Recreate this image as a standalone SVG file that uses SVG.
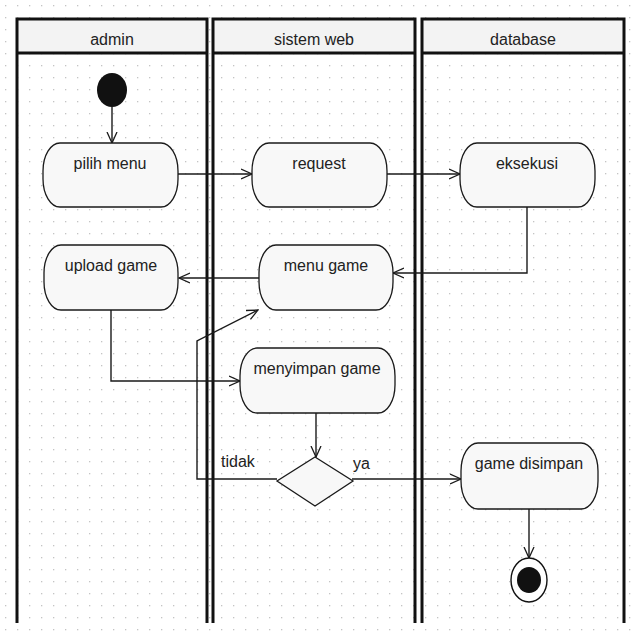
<svg xmlns="http://www.w3.org/2000/svg" width="640" height="640" viewBox="0 0 640 640">
<style>
.lane{fill:none;stroke:#111;stroke-width:3}
.hdr{fill:#f3f3f3;stroke:none}
.ht{font-family:"Liberation Sans",Arial,sans-serif;font-size:16px;fill:#222;text-anchor:middle}
.act{fill:#f8f8f8;stroke:#1a1a1a;stroke-width:1.3}
.t{font-family:"Liberation Sans",Arial,sans-serif;font-size:16px;fill:#222;text-anchor:middle}
.lbl{font-family:"Liberation Sans",Arial,sans-serif;font-size:16px;fill:#222}
.c{fill:none;stroke:#1a1a1a;stroke-width:1.4}
.ca{fill:none;stroke:#1a1a1a;stroke-width:1.4;marker-end:url(#arr)}
</style>
<defs>
<pattern id="dots" x="0" y="0" width="12" height="12" patternUnits="userSpaceOnUse">
<rect x="5" y="5" width="1.3" height="1.3" fill="#c4c4c4"/>
</pattern>
<marker id="arr" viewBox="0 0 12 12" refX="11" refY="6" markerWidth="12" markerHeight="12" markerUnits="userSpaceOnUse" orient="auto">
<path d="M0,1 L11,6 L0,11" fill="none" stroke="#1a1a1a" stroke-width="1.3"/>
</marker>
</defs>
<rect width="640" height="640" fill="#ffffff"/>
<rect width="640" height="640" fill="url(#dots)"/>

<g id="lanes">
<g id="lane-admin">
<rect class="hdr" x="17" y="19" width="190" height="34"/>
<path class="lane" d="M17,623 V19 H207 V623 M17,53 H207"/>
<text class="ht" x="112" y="45">admin</text>
</g>
<g id="lane-sistem">
<rect class="hdr" x="213" y="19" width="202" height="34"/>
<path class="lane" d="M213,623 V19 H415 V623 M213,53 H415"/>
<text class="ht" x="314" y="45">sistem web</text>
</g>
<g id="lane-database">
<rect class="hdr" x="422" y="19" width="202" height="34"/>
<path class="lane" d="M422,623 V19 H624 V623 M422,53 H624"/>
<text class="ht" x="523" y="45">database</text>
</g>
</g>

<g id="connectors">
<path class="ca" d="M112,107 V143"/>
<path class="ca" d="M178,174 H252"/>
<path class="ca" d="M387,174 H460"/>
<path class="ca" d="M527,207 V273 H393"/>
<path class="ca" d="M259,278 H179"/>
<path class="ca" d="M111,310 V381 H240"/>
<path class="ca" d="M316,413 V457"/>
<path class="ca" d="M352,479 H461"/>
<path class="ca" d="M277,479 H197 V341 L258,310"/>
<path class="ca" d="M529,509 V558"/>
<text class="lbl" x="221" y="467">tidak</text>
<text class="lbl" x="353" y="469">ya</text>
</g>

<g id="start">
<ellipse cx="112" cy="90" rx="15" ry="17" fill="#111"/>
</g>
<g id="pilih-menu">
<rect class="act" x="43" y="143" width="135" height="64" rx="17" ry="28"/>
<text class="t" x="110" y="169">pilih menu</text>
</g>
<g id="request">
<rect class="act" x="252" y="143" width="135" height="64" rx="17" ry="28"/>
<text class="t" x="319" y="169">request</text>
</g>
<g id="eksekusi">
<rect class="act" x="460" y="143" width="135" height="64" rx="17" ry="28"/>
<text class="t" x="527" y="169">eksekusi</text>
</g>
<g id="upload-game">
<rect class="act" x="44" y="245" width="134" height="65" rx="17" ry="28"/>
<text class="t" x="111" y="271">upload game</text>
</g>
<g id="menu-game">
<rect class="act" x="259" y="245" width="134" height="65" rx="17" ry="28"/>
<text class="t" x="326" y="271">menu game</text>
</g>
<g id="menyimpan-game">
<rect class="act" x="240" y="348" width="155" height="65" rx="17" ry="28"/>
<text class="t" x="317" y="374">menyimpan game</text>
</g>
<g id="decision">
<polygon class="act" points="315,457 353,481 315,506 277,481"/>
</g>
<g id="game-disimpan">
<rect class="act" x="461" y="443" width="137" height="66" rx="17" ry="28"/>
<text class="t" x="529" y="469">game disimpan</text>
</g>
<g id="end">
<ellipse cx="529" cy="580" rx="18" ry="22" fill="#fff" stroke="#111" stroke-width="1.4"/>
<ellipse cx="529" cy="580" rx="12" ry="13" fill="#111"/>
</g>
</svg>
